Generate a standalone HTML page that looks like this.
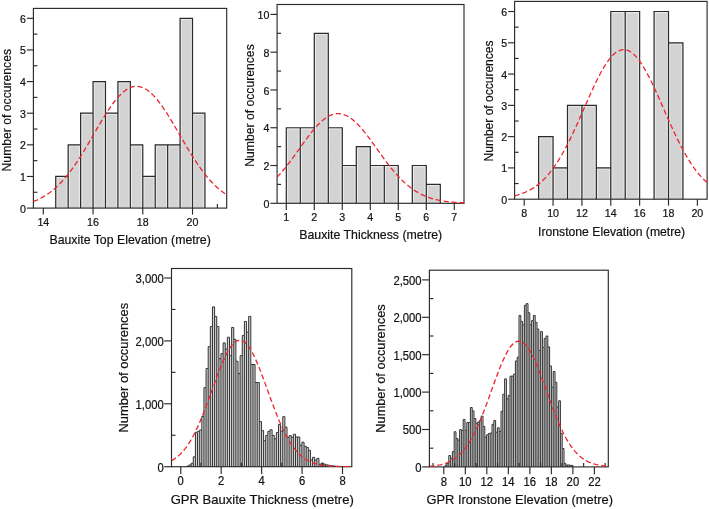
<!DOCTYPE html>
<html lang="en"><head><meta charset="utf-8"><title>Histograms</title>
<style>html,body{margin:0;padding:0;background:#fff;}svg{display:block;will-change:transform;}</style></head><body>
<svg width="709" height="509" viewBox="0 0 709 509">
<rect width="709" height="509" fill="#fff"/>
<g>
<path d="M55.73 208.10V176.47H68.17V144.84H80.60V113.21H93.04V81.58H105.47V113.21H117.91V81.58H130.34V144.84H142.78V176.47H155.22V144.84H167.65V144.84H180.08V18.32H192.52V113.21H204.95V208.10Z" fill="#d3d3d3" stroke="none"/>
<g fill="none" stroke="#e9e9e9" stroke-width="1.2">
<path d="M56.84 207.60 V177.57 H67.07 V207.60"/>
<path d="M69.27 207.60 V145.94 H79.50 V207.60"/>
<path d="M81.70 207.60 V114.31 H91.94 V207.60"/>
<path d="M94.14 207.60 V82.68 H104.38 V207.60"/>
<path d="M106.57 207.60 V114.31 H116.81 V207.60"/>
<path d="M119.01 207.60 V82.68 H129.25 V207.60"/>
<path d="M131.44 207.60 V145.94 H141.68 V207.60"/>
<path d="M143.88 207.60 V177.57 H154.12 V207.60"/>
<path d="M156.31 207.60 V145.94 H166.55 V207.60"/>
<path d="M168.75 207.60 V145.94 H178.98 V207.60"/>
<path d="M181.18 207.60 V19.42 H191.42 V207.60"/>
<path d="M193.62 207.60 V114.31 H203.85 V207.60"/>
</g>
<path d="M55.73 208.10V176.47H68.17V144.84H80.60V113.21H93.04V81.58H105.47V113.21H117.91V81.58H130.34V144.84H142.78V176.47H155.22V144.84H167.65V144.84H180.08V18.32H192.52V113.21H204.95V208.10M68.17 208.10V176.47M80.60 208.10V144.84M93.04 208.10V113.21M105.47 208.10V113.21M117.91 208.10V113.21M130.34 208.10V144.84M142.78 208.10V176.47M155.22 208.10V176.47M167.65 208.10V144.84M180.08 208.10V144.84M192.52 208.10V113.21" fill="none" stroke="#2a2a2a" stroke-width="1.2" stroke-linejoin="miter"/>
<g stroke="#2a2a2a" stroke-width="1.15" fill="none">
<path d="M26.90 208.10 H33.40"/>
<path d="M26.90 176.47 H33.40"/>
<path d="M26.90 144.84 H33.40"/>
<path d="M26.90 113.21 H33.40"/>
<path d="M26.90 81.58 H33.40"/>
<path d="M26.90 49.95 H33.40"/>
<path d="M26.90 18.32 H33.40"/>
<path d="M33.40 192.28 H37.40"/>
<path d="M33.40 160.66 H37.40"/>
<path d="M33.40 129.02 H37.40"/>
<path d="M33.40 97.39 H37.40"/>
<path d="M33.40 65.76 H37.40"/>
<path d="M33.40 34.13 H37.40"/>
<path d="M43.30 208.10 V214.60"/>
<path d="M93.04 208.10 V214.60"/>
<path d="M142.78 208.10 V214.60"/>
<path d="M192.52 208.10 V214.60"/>
<path d="M217.39 208.10 V204.10"/>
<rect x="33.40" y="8.40" width="193.30" height="199.70"/>
</g>
<clipPath id="c1"><rect x="33.40" y="8.40" width="193.30" height="200.70"/></clipPath>
<path clip-path="url(#c1)" d="M33.10 201.56 L34.72 200.95 L36.33 200.28 L37.94 199.56 L39.55 198.79 L41.17 197.97 L42.78 197.09 L44.39 196.15 L46.00 195.15 L47.61 194.08 L49.23 192.95 L50.84 191.75 L52.45 190.48 L54.06 189.14 L55.68 187.72 L57.29 186.23 L58.90 184.67 L60.51 183.02 L62.13 181.31 L63.74 179.51 L65.35 177.64 L66.96 175.69 L68.58 173.66 L70.19 171.56 L71.80 169.39 L73.41 167.14 L75.03 164.83 L76.64 162.45 L78.25 160.01 L79.86 157.51 L81.48 154.96 L83.09 152.35 L84.70 149.71 L86.31 147.02 L87.93 144.30 L89.54 141.55 L91.15 138.79 L92.76 136.01 L94.37 133.22 L95.99 130.44 L97.60 127.67 L99.21 124.92 L100.82 122.20 L102.44 119.52 L104.05 116.88 L105.66 114.29 L107.27 111.77 L108.89 109.32 L110.50 106.96 L112.11 104.68 L113.72 102.50 L115.34 100.43 L116.95 98.48 L118.56 96.64 L120.17 94.94 L121.79 93.38 L123.40 91.96 L125.01 90.69 L126.62 89.57 L128.24 88.61 L129.85 87.82 L131.46 87.19 L133.07 86.73 L134.68 86.44 L136.30 86.33 L137.91 86.38 L139.52 86.62 L141.13 87.02 L142.75 87.59 L144.36 88.33 L145.97 89.24 L147.58 90.30 L149.20 91.52 L150.81 92.89 L152.42 94.41 L154.03 96.07 L155.65 97.86 L157.26 99.77 L158.87 101.81 L160.48 103.95 L162.10 106.20 L163.71 108.53 L165.32 110.96 L166.93 113.45 L168.55 116.02 L170.16 118.64 L171.77 121.31 L173.38 124.02 L174.99 126.77 L176.61 129.53 L178.22 132.31 L179.83 135.09 L181.44 137.87 L183.06 140.64 L184.67 143.40 L186.28 146.13 L187.89 148.83 L189.51 151.49 L191.12 154.11 L192.73 156.68 L194.34 159.19 L195.96 161.66 L197.57 164.06 L199.18 166.39 L200.79 168.66 L202.41 170.85 L204.02 172.98 L205.63 175.03 L207.24 177.00 L208.86 178.90 L210.47 180.72 L212.08 182.47 L213.69 184.14 L215.31 185.73 L216.92 187.24 L218.53 188.68 L220.14 190.05 L221.75 191.34 L223.37 192.56 L224.98 193.72 L226.59 194.80" fill="none" stroke="#ee242c" stroke-width="1.3" stroke-dasharray="5.2 2.8"/>
<g font-family='"Liberation Sans", Arial, sans-serif' font-size="11.0" fill="#111" stroke="#111" stroke-width="0.2">
<text transform="translate(25.90 212.64) scale(0.97 1)" text-anchor="end">0</text>
<text transform="translate(25.90 181.01) scale(0.97 1)" text-anchor="end">1</text>
<text transform="translate(25.90 149.38) scale(0.97 1)" text-anchor="end">2</text>
<text transform="translate(25.90 117.75) scale(0.97 1)" text-anchor="end">3</text>
<text transform="translate(25.90 86.12) scale(0.97 1)" text-anchor="end">4</text>
<text transform="translate(25.90 54.49) scale(0.97 1)" text-anchor="end">5</text>
<text transform="translate(25.90 22.86) scale(0.97 1)" text-anchor="end">6</text>
<text transform="translate(43.30 226.30) scale(0.97 1)" text-anchor="middle">14</text>
<text transform="translate(93.04 226.30) scale(0.97 1)" text-anchor="middle">16</text>
<text transform="translate(142.78 226.30) scale(0.97 1)" text-anchor="middle">18</text>
<text transform="translate(192.52 226.30) scale(0.97 1)" text-anchor="middle">20</text>
</g>
<g font-family='"Liberation Sans", Arial, sans-serif' font-size="12.5" fill="#111" stroke="#111" stroke-width="0.2">
<text transform="translate(130.10 244.00) scale(0.986 1)" text-anchor="middle">Bauxite Top Elevation (metre)</text>
<text transform="translate(11.00 110.20) rotate(-90) scale(0.975 1)" text-anchor="middle">Number of occurences</text>
</g>
</g>
<g>
<path d="M286.30 203.30V127.74H300.30V127.74H314.30V33.29H328.30V127.74H342.30V165.52H356.30V146.63H370.30V165.52H384.30V165.52H398.30V203.30ZM412.30 203.30V165.52H426.30V184.41H440.30V203.30Z" fill="#d3d3d3" stroke="none"/>
<g fill="none" stroke="#e9e9e9" stroke-width="1.2">
<path d="M287.40 202.80 V128.84 H299.20 V202.80"/>
<path d="M301.40 202.80 V128.84 H313.20 V202.80"/>
<path d="M315.40 202.80 V34.39 H327.20 V202.80"/>
<path d="M329.40 202.80 V128.84 H341.20 V202.80"/>
<path d="M343.40 202.80 V166.62 H355.20 V202.80"/>
<path d="M357.40 202.80 V147.73 H369.20 V202.80"/>
<path d="M371.40 202.80 V166.62 H383.20 V202.80"/>
<path d="M385.40 202.80 V166.62 H397.20 V202.80"/>
<path d="M413.40 202.80 V166.62 H425.20 V202.80"/>
<path d="M427.40 202.80 V185.51 H439.20 V202.80"/>
</g>
<path d="M286.30 203.30V127.74H300.30V127.74H314.30V33.29H328.30V127.74H342.30V165.52H356.30V146.63H370.30V165.52H384.30V165.52H398.30V203.30M300.30 203.30V127.74M314.30 203.30V127.74M328.30 203.30V127.74M342.30 203.30V165.52M356.30 203.30V165.52M370.30 203.30V165.52M384.30 203.30V165.52M412.30 203.30V165.52H426.30V184.41H440.30V203.30M426.30 203.30V184.41" fill="none" stroke="#2a2a2a" stroke-width="1.2" stroke-linejoin="miter"/>
<g stroke="#2a2a2a" stroke-width="1.15" fill="none">
<path d="M270.40 203.30 H277.10"/>
<path d="M270.40 165.52 H277.10"/>
<path d="M270.40 127.74 H277.10"/>
<path d="M270.40 89.96 H277.10"/>
<path d="M270.40 52.18 H277.10"/>
<path d="M270.40 14.40 H277.10"/>
<path d="M277.10 184.41 H281.10"/>
<path d="M277.10 146.63 H281.10"/>
<path d="M277.10 108.85 H281.10"/>
<path d="M277.10 71.07 H281.10"/>
<path d="M277.10 33.29 H281.10"/>
<path d="M286.30 203.30 V210.00"/>
<path d="M314.30 203.30 V210.00"/>
<path d="M342.30 203.30 V210.00"/>
<path d="M370.30 203.30 V210.00"/>
<path d="M398.30 203.30 V210.00"/>
<path d="M426.30 203.30 V210.00"/>
<path d="M454.30 203.30 V210.00"/>
<rect x="277.10" y="4.50" width="186.90" height="198.80"/>
</g>
<clipPath id="c2"><rect x="277.10" y="4.50" width="186.90" height="199.80"/></clipPath>
<path clip-path="url(#c2)" d="M277.00 177.31 L278.56 175.64 L280.12 173.91 L281.68 172.11 L283.24 170.26 L284.80 168.36 L286.36 166.41 L287.92 164.41 L289.48 162.37 L291.04 160.29 L292.60 158.18 L294.15 156.04 L295.71 153.88 L297.27 151.71 L298.83 149.52 L300.39 147.34 L301.95 145.16 L303.51 142.99 L305.07 140.84 L306.63 138.72 L308.19 136.63 L309.75 134.59 L311.30 132.60 L312.86 130.67 L314.42 128.81 L315.98 127.02 L317.54 125.32 L319.10 123.71 L320.66 122.19 L322.22 120.78 L323.78 119.48 L325.34 118.30 L326.90 117.23 L328.46 116.30 L330.01 115.50 L331.57 114.83 L333.13 114.30 L334.69 113.92 L336.25 113.67 L337.81 113.58 L339.37 113.62 L340.93 113.81 L342.49 114.14 L344.05 114.62 L345.61 115.24 L347.17 115.99 L348.72 116.87 L350.28 117.89 L351.84 119.03 L353.40 120.28 L354.96 121.65 L356.52 123.13 L358.08 124.71 L359.64 126.38 L361.20 128.14 L362.76 129.97 L364.32 131.88 L365.87 133.85 L367.43 135.87 L368.99 137.94 L370.55 140.05 L372.11 142.19 L373.67 144.35 L375.23 146.53 L376.79 148.71 L378.35 150.90 L379.91 153.07 L381.47 155.24 L383.03 157.39 L384.58 159.51 L386.14 161.60 L387.70 163.66 L389.26 165.67 L390.82 167.64 L392.38 169.56 L393.94 171.43 L395.50 173.25 L397.06 175.00 L398.62 176.70 L400.18 178.33 L401.73 179.91 L403.29 181.42 L404.85 182.86 L406.41 184.24 L407.97 185.56 L409.53 186.81 L411.09 188.00 L412.65 189.12 L414.21 190.19 L415.77 191.19 L417.33 192.13 L418.89 193.02 L420.44 193.85 L422.00 194.63 L423.56 195.36 L425.12 196.04 L426.68 196.67 L428.24 197.25 L429.80 197.80 L431.36 198.30 L432.92 198.76 L434.48 199.19 L436.04 199.58 L437.59 199.95 L439.15 200.28 L440.71 200.58 L442.27 200.85 L443.83 201.11 L445.39 201.34 L446.95 201.54 L448.51 201.73 L450.07 201.90 L451.63 202.06 L453.19 202.20 L454.75 202.32 L456.30 202.43 L457.86 202.53 L459.42 202.62 L460.98 202.70 L462.54 202.77 L464.10 202.84" fill="none" stroke="#ee242c" stroke-width="1.3" stroke-dasharray="5.2 2.8"/>
<g font-family='"Liberation Sans", Arial, sans-serif' font-size="11.0" fill="#111" stroke="#111" stroke-width="0.2">
<text transform="translate(269.40 207.84) scale(0.97 1)" text-anchor="end">0</text>
<text transform="translate(269.40 170.06) scale(0.97 1)" text-anchor="end">2</text>
<text transform="translate(269.40 132.28) scale(0.97 1)" text-anchor="end">4</text>
<text transform="translate(269.40 94.50) scale(0.97 1)" text-anchor="end">6</text>
<text transform="translate(269.40 56.72) scale(0.97 1)" text-anchor="end">8</text>
<text transform="translate(269.40 18.94) scale(0.97 1)" text-anchor="end">10</text>
<text transform="translate(286.30 221.00) scale(0.97 1)" text-anchor="middle">1</text>
<text transform="translate(314.30 221.00) scale(0.97 1)" text-anchor="middle">2</text>
<text transform="translate(342.30 221.00) scale(0.97 1)" text-anchor="middle">3</text>
<text transform="translate(370.30 221.00) scale(0.97 1)" text-anchor="middle">4</text>
<text transform="translate(398.30 221.00) scale(0.97 1)" text-anchor="middle">5</text>
<text transform="translate(426.30 221.00) scale(0.97 1)" text-anchor="middle">6</text>
<text transform="translate(454.30 221.00) scale(0.97 1)" text-anchor="middle">7</text>
</g>
<g font-family='"Liberation Sans", Arial, sans-serif' font-size="12.5" fill="#111" stroke="#111" stroke-width="0.2">
<text transform="translate(370.70 239.30) scale(0.988 1)" text-anchor="middle">Bauxite Thickness (metre)</text>
<text transform="translate(253.60 105.50) rotate(-90) scale(0.975 1)" text-anchor="middle">Number of occurences</text>
</g>
</g>
<g>
<path d="M538.63 199.20V136.64H553.06V167.92H567.49V105.36H581.92V105.36H596.35V167.92H610.78V11.52H625.21V11.52H639.64V199.20ZM654.07 199.20V11.52H668.50V42.80H682.93V199.20Z" fill="#d3d3d3" stroke="none"/>
<g fill="none" stroke="#e9e9e9" stroke-width="1.2">
<path d="M539.73 198.70 V137.74 H551.96 V198.70"/>
<path d="M554.16 198.70 V169.02 H566.39 V198.70"/>
<path d="M568.59 198.70 V106.46 H580.82 V198.70"/>
<path d="M583.02 198.70 V106.46 H595.25 V198.70"/>
<path d="M597.45 198.70 V169.02 H609.68 V198.70"/>
<path d="M611.88 198.70 V12.62 H624.11 V198.70"/>
<path d="M626.31 198.70 V12.62 H638.54 V198.70"/>
<path d="M655.17 198.70 V12.62 H667.40 V198.70"/>
<path d="M669.60 198.70 V43.90 H681.83 V198.70"/>
</g>
<path d="M538.63 199.20V136.64H553.06V167.92H567.49V105.36H581.92V105.36H596.35V167.92H610.78V11.52H625.21V11.52H639.64V199.20M553.06 199.20V167.92M567.49 199.20V167.92M581.92 199.20V105.36M596.35 199.20V167.92M610.78 199.20V167.92M625.21 199.20V11.52M654.07 199.20V11.52H668.50V42.80H682.93V199.20M668.50 199.20V42.80" fill="none" stroke="#2a2a2a" stroke-width="1.2" stroke-linejoin="miter"/>
<g stroke="#2a2a2a" stroke-width="1.15" fill="none">
<path d="M508.10 199.20 H514.60"/>
<path d="M508.10 167.92 H514.60"/>
<path d="M508.10 136.64 H514.60"/>
<path d="M508.10 105.36 H514.60"/>
<path d="M508.10 74.08 H514.60"/>
<path d="M508.10 42.80 H514.60"/>
<path d="M508.10 11.52 H514.60"/>
<path d="M514.60 183.56 H518.60"/>
<path d="M514.60 152.28 H518.60"/>
<path d="M514.60 121.00 H518.60"/>
<path d="M514.60 89.72 H518.60"/>
<path d="M514.60 58.44 H518.60"/>
<path d="M514.60 27.16 H518.60"/>
<path d="M524.20 199.20 V205.70"/>
<path d="M553.06 199.20 V205.70"/>
<path d="M581.92 199.20 V205.70"/>
<path d="M610.78 199.20 V205.70"/>
<path d="M639.64 199.20 V205.70"/>
<path d="M668.50 199.20 V205.70"/>
<path d="M697.36 199.20 V205.70"/>
<rect x="514.60" y="1.40" width="192.50" height="197.80"/>
</g>
<clipPath id="c3"><rect x="514.60" y="1.40" width="192.50" height="198.80"/></clipPath>
<path clip-path="url(#c3)" d="M514.60 195.76 L516.21 195.36 L517.81 194.92 L519.41 194.44 L521.02 193.91 L522.62 193.34 L524.23 192.71 L525.83 192.02 L527.43 191.28 L529.04 190.47 L530.64 189.60 L532.24 188.66 L533.85 187.64 L535.45 186.55 L537.05 185.37 L538.66 184.11 L540.26 182.76 L541.86 181.32 L543.47 179.79 L545.07 178.15 L546.67 176.42 L548.28 174.59 L549.88 172.65 L551.49 170.60 L553.09 168.45 L554.69 166.19 L556.30 163.82 L557.90 161.34 L559.50 158.76 L561.11 156.06 L562.71 153.27 L564.31 150.37 L565.92 147.37 L567.52 144.28 L569.12 141.10 L570.73 137.84 L572.33 134.50 L573.93 131.08 L575.54 127.61 L577.14 124.07 L578.75 120.50 L580.35 116.88 L581.95 113.24 L583.56 109.59 L585.16 105.93 L586.76 102.28 L588.37 98.65 L589.97 95.05 L591.57 91.51 L593.18 88.02 L594.78 84.60 L596.38 81.28 L597.99 78.05 L599.59 74.94 L601.19 71.96 L602.80 69.11 L604.40 66.42 L606.01 63.89 L607.61 61.54 L609.21 59.38 L610.82 57.41 L612.42 55.65 L614.02 54.11 L615.63 52.79 L617.23 51.69 L618.83 50.83 L620.44 50.21 L622.04 49.82 L623.64 49.68 L625.25 49.79 L626.85 50.13 L628.45 50.72 L630.06 51.54 L631.66 52.60 L633.27 53.89 L634.87 55.40 L636.47 57.13 L638.08 59.07 L639.68 61.20 L641.28 63.52 L642.89 66.02 L644.49 68.69 L646.09 71.51 L647.70 74.47 L649.30 77.57 L650.90 80.78 L652.51 84.09 L654.11 87.49 L655.72 90.97 L657.32 94.51 L658.92 98.10 L660.53 101.72 L662.13 105.37 L663.73 109.03 L665.34 112.68 L666.94 116.33 L668.54 119.95 L670.15 123.53 L671.75 127.07 L673.35 130.56 L674.96 133.98 L676.56 137.33 L678.16 140.61 L679.77 143.80 L681.37 146.91 L682.98 149.92 L684.58 152.83 L686.18 155.64 L687.79 158.35 L689.39 160.95 L690.99 163.45 L692.60 165.83 L694.20 168.11 L695.80 170.28 L697.41 172.34 L699.01 174.30 L700.61 176.15 L702.22 177.90 L703.82 179.54 L705.42 181.09 L707.03 182.55" fill="none" stroke="#ee242c" stroke-width="1.3" stroke-dasharray="5.2 2.8"/>
<g font-family='"Liberation Sans", Arial, sans-serif' font-size="11.0" fill="#111" stroke="#111" stroke-width="0.2">
<text transform="translate(507.10 203.74) scale(0.97 1)" text-anchor="end">0</text>
<text transform="translate(507.10 172.46) scale(0.97 1)" text-anchor="end">1</text>
<text transform="translate(507.10 141.18) scale(0.97 1)" text-anchor="end">2</text>
<text transform="translate(507.10 109.90) scale(0.97 1)" text-anchor="end">3</text>
<text transform="translate(507.10 78.62) scale(0.97 1)" text-anchor="end">4</text>
<text transform="translate(507.10 47.34) scale(0.97 1)" text-anchor="end">5</text>
<text transform="translate(507.10 16.06) scale(0.97 1)" text-anchor="end">6</text>
<text transform="translate(524.20 216.70) scale(0.97 1)" text-anchor="middle">8</text>
<text transform="translate(553.06 216.70) scale(0.97 1)" text-anchor="middle">10</text>
<text transform="translate(581.92 216.70) scale(0.97 1)" text-anchor="middle">12</text>
<text transform="translate(610.78 216.70) scale(0.97 1)" text-anchor="middle">14</text>
<text transform="translate(639.64 216.70) scale(0.97 1)" text-anchor="middle">16</text>
<text transform="translate(668.50 216.70) scale(0.97 1)" text-anchor="middle">18</text>
<text transform="translate(697.36 216.70) scale(0.97 1)" text-anchor="middle">20</text>
</g>
<g font-family='"Liberation Sans", Arial, sans-serif' font-size="12.4" fill="#111" stroke="#111" stroke-width="0.2">
<text transform="translate(611.60 235.60) scale(0.984 1)" text-anchor="middle">Ironstone Elevation (metre)</text>
<text transform="translate(493.40 101.00) rotate(-90) scale(0.97 1)" text-anchor="middle">Number of occurences</text>
</g>
</g>
<g>
<path d="M186.90 466.70V466.07H189.03V464.94H191.16V463.24H193.29V456.82H195.42V432.29H197.55V431.35H199.68V430.03H201.81V416.51H203.94V387.63H206.07V368.45H208.20V346.62H210.33V326.56H212.46V306.87H214.59V316.43H216.72V326.56H218.85V358.70H220.98V353.61H223.11V342.91H225.24V349.08H227.37V337.25H229.50V355.62H231.63V327.44H233.76V339.26H235.89V361.28H238.02V373.55H240.15V355.62H242.28V335.55H244.41V321.53H246.54V332.22H248.67V316.43H250.80V364.49H252.93V364.49H255.06V382.54H257.19V382.54H259.32V421.60H261.45V430.60H263.58V440.72H265.71V435.44H267.84V431.35H269.97V429.78H272.10V435.44H274.23V438.84H276.36V432.55H278.49V424.56H280.62V431.16H282.75V416.69H284.88V427.14H287.01V437.33H289.14V435.63H291.27V437.33H293.40V434.24H295.53V437.01H297.66V437.01H299.79V445.25H301.92V442.17H304.05V446.32H306.18V447.45H308.31V450.35H310.44V459.91H312.57V457.33H314.70V460.22H316.83V458.40H318.96V464.37H321.09V463.18H323.22V464.00H325.35V464.81H327.48V465.19H329.61V465.57H331.74V465.95H333.87V466.20H336.00V466.39H338.13V466.70Z" fill="#d3d3d3" stroke="none"/>
<path d="M186.90 466.70V466.07H189.03V464.94H191.16V463.24H193.29V456.82H195.42V432.29H197.55V431.35H199.68V430.03H201.81V416.51H203.94V387.63H206.07V368.45H208.20V346.62H210.33V326.56H212.46V306.87H214.59V316.43H216.72V326.56H218.85V358.70H220.98V353.61H223.11V342.91H225.24V349.08H227.37V337.25H229.50V355.62H231.63V327.44H233.76V339.26H235.89V361.28H238.02V373.55H240.15V355.62H242.28V335.55H244.41V321.53H246.54V332.22H248.67V316.43H250.80V364.49H252.93V364.49H255.06V382.54H257.19V382.54H259.32V421.60H261.45V430.60H263.58V440.72H265.71V435.44H267.84V431.35H269.97V429.78H272.10V435.44H274.23V438.84H276.36V432.55H278.49V424.56H280.62V431.16H282.75V416.69H284.88V427.14H287.01V437.33H289.14V435.63H291.27V437.33H293.40V434.24H295.53V437.01H297.66V437.01H299.79V445.25H301.92V442.17H304.05V446.32H306.18V447.45H308.31V450.35H310.44V459.91H312.57V457.33H314.70V460.22H316.83V458.40H318.96V464.37H321.09V463.18H323.22V464.00H325.35V464.81H327.48V465.19H329.61V465.57H331.74V465.95H333.87V466.20H336.00V466.39H338.13V466.70M189.03 466.70V466.07M191.16 466.70V464.94M193.29 466.70V463.24M195.42 466.70V456.82M197.55 466.70V432.29M199.68 466.70V431.35M201.81 466.70V430.03M203.94 466.70V416.51M206.07 466.70V387.63M208.20 466.70V368.45M210.33 466.70V346.62M212.46 466.70V326.56M214.59 466.70V316.43M216.72 466.70V326.56M218.85 466.70V358.70M220.98 466.70V358.70M223.11 466.70V353.61M225.24 466.70V349.08M227.37 466.70V349.08M229.50 466.70V355.62M231.63 466.70V355.62M233.76 466.70V339.26M235.89 466.70V361.28M238.02 466.70V373.55M240.15 466.70V373.55M242.28 466.70V355.62M244.41 466.70V335.55M246.54 466.70V332.22M248.67 466.70V332.22M250.80 466.70V364.49M252.93 466.70V364.49M255.06 466.70V382.54M257.19 466.70V382.54M259.32 466.70V421.60M261.45 466.70V430.60M263.58 466.70V440.72M265.71 466.70V440.72M267.84 466.70V435.44M269.97 466.70V431.35M272.10 466.70V435.44M274.23 466.70V438.84M276.36 466.70V438.84M278.49 466.70V432.55M280.62 466.70V431.16M282.75 466.70V431.16M284.88 466.70V427.14M287.01 466.70V437.33M289.14 466.70V437.33M291.27 466.70V437.33M293.40 466.70V437.33M295.53 466.70V437.01M297.66 466.70V437.01M299.79 466.70V445.25M301.92 466.70V445.25M304.05 466.70V446.32M306.18 466.70V447.45M308.31 466.70V450.35M310.44 466.70V459.91M312.57 466.70V459.91M314.70 466.70V460.22M316.83 466.70V460.22M318.96 466.70V464.37M321.09 466.70V464.37M323.22 466.70V464.00M325.35 466.70V464.81M327.48 466.70V465.19M329.61 466.70V465.57M331.74 466.70V465.95M333.87 466.70V466.20M336.00 466.70V466.39" fill="none" stroke="#333" stroke-width="1.0" stroke-linejoin="miter"/>
<g stroke="#2a2a2a" stroke-width="1.15" fill="none">
<path d="M164.20 466.70 H171.50"/>
<path d="M164.20 403.80 H171.50"/>
<path d="M164.20 340.90 H171.50"/>
<path d="M164.20 278.00 H171.50"/>
<path d="M171.50 435.25 H175.50"/>
<path d="M171.50 372.35 H175.50"/>
<path d="M171.50 309.45 H175.50"/>
<path d="M180.75 466.70 V474.00"/>
<path d="M221.19 466.70 V474.00"/>
<path d="M261.63 466.70 V474.00"/>
<path d="M302.07 466.70 V474.00"/>
<path d="M342.51 466.70 V474.00"/>
<path d="M200.97 466.70 V462.70"/>
<path d="M241.41 466.70 V462.70"/>
<path d="M281.85 466.70 V462.70"/>
<path d="M322.29 466.70 V462.70"/>
<rect x="171.50" y="268.50" width="180.30" height="198.20"/>
</g>
<clipPath id="c4"><rect x="171.50" y="268.50" width="180.30" height="199.20"/></clipPath>
<path clip-path="url(#c4)" d="M171.45 460.67 L172.95 459.82 L174.45 458.87 L175.96 457.81 L177.46 456.64 L178.96 455.36 L180.47 453.94 L181.97 452.39 L183.47 450.69 L184.98 448.85 L186.48 446.86 L187.98 444.71 L189.49 442.40 L190.99 439.92 L192.49 437.28 L193.99 434.47 L195.50 431.49 L197.00 428.36 L198.50 425.07 L200.01 421.63 L201.51 418.05 L203.01 414.34 L204.52 410.51 L206.02 406.57 L207.52 402.56 L209.02 398.47 L210.53 394.34 L212.03 390.18 L213.53 386.03 L215.04 381.90 L216.54 377.81 L218.04 373.81 L219.55 369.91 L221.05 366.14 L222.55 362.53 L224.05 359.11 L225.56 355.91 L227.06 352.94 L228.56 350.24 L230.07 347.83 L231.57 345.72 L233.07 343.94 L234.58 342.49 L236.08 341.40 L237.58 340.67 L239.08 340.31 L240.59 340.32 L242.09 340.71 L243.59 341.46 L245.10 342.57 L246.60 344.03 L248.10 345.83 L249.61 347.96 L251.11 350.39 L252.61 353.11 L254.11 356.09 L255.62 359.31 L257.12 362.74 L258.62 366.36 L260.13 370.13 L261.63 374.04 L263.13 378.05 L264.64 382.13 L266.14 386.27 L267.64 390.43 L269.15 394.58 L270.65 398.71 L272.15 402.79 L273.65 406.81 L275.16 410.73 L276.66 414.55 L278.16 418.26 L279.67 421.83 L281.17 425.26 L282.67 428.55 L284.18 431.67 L285.68 434.63 L287.18 437.43 L288.68 440.07 L290.19 442.54 L291.69 444.84 L293.19 446.98 L294.70 448.97 L296.20 450.80 L297.70 452.48 L299.21 454.02 L300.71 455.43 L302.21 456.72 L303.71 457.88 L305.22 458.93 L306.72 459.87 L308.22 460.72 L309.73 461.48 L311.23 462.15 L312.73 462.75 L314.24 463.28 L315.74 463.75 L317.24 464.16 L318.74 464.52 L320.25 464.84 L321.75 465.11 L323.25 465.35 L324.76 465.55 L326.26 465.73 L327.76 465.88 L329.27 466.01 L330.77 466.12 L332.27 466.22 L333.77 466.30 L335.28 466.37 L336.78 466.42 L338.28 466.47 L339.79 466.51 L341.29 466.55 L342.79 466.57 L344.30 466.60 L345.80 466.62 L347.30 466.63 L348.81 466.65 L350.31 466.66 L351.81 466.66" fill="none" stroke="#ee242c" stroke-width="1.3" stroke-dasharray="5.2 2.8"/>
<g font-family='"Liberation Sans", Arial, sans-serif' font-size="12.0" fill="#111" stroke="#111" stroke-width="0.2">
<text transform="translate(163.70 471.60) scale(0.94 1)" text-anchor="end">0</text>
<text transform="translate(163.70 408.70) scale(0.94 1)" text-anchor="end">1,000</text>
<text transform="translate(163.70 345.80) scale(0.94 1)" text-anchor="end">2,000</text>
<text transform="translate(163.70 282.90) scale(0.94 1)" text-anchor="end">3,000</text>
<text transform="translate(180.75 485.20) scale(0.94 1)" text-anchor="middle">0</text>
<text transform="translate(221.19 485.20) scale(0.94 1)" text-anchor="middle">2</text>
<text transform="translate(261.63 485.20) scale(0.94 1)" text-anchor="middle">4</text>
<text transform="translate(302.07 485.20) scale(0.94 1)" text-anchor="middle">6</text>
<text transform="translate(342.51 485.20) scale(0.94 1)" text-anchor="middle">8</text>
</g>
<g font-family='"Liberation Sans", Arial, sans-serif' font-size="13.1" fill="#111" stroke="#111" stroke-width="0.2">
<text transform="translate(262.20 503.90) scale(0.996 1)" text-anchor="middle">GPR Bauxite Thickness (metre)</text>
<text transform="translate(127.60 367.70) rotate(-90) scale(0.985 1)" text-anchor="middle">Number of occurences</text>
</g>
</g>
<g>
<path d="M445.20 466.90V465.10H447.00V463.38H448.80V455.53H450.60V458.37H452.40V451.57H454.20V431.74H456.00V438.55H457.80V440.20H459.60V429.65H461.40V430.47H463.20V419.48H465.00V430.32H466.80V422.47H468.60V422.47H470.40V407.51H472.20V410.87H474.00V418.50H475.80V423.29H477.60V422.02H479.40V420.52H481.20V416.11H483.00V426.43H484.80V437.28H486.60V434.74H488.40V433.46H490.20V433.02H492.00V424.41H493.80V420.52H495.60V432.27H497.40V427.78H499.20V431.52H501.00V411.32H502.80V394.27H504.60V378.86H506.40V398.98H508.20V395.39H510.00V376.17H511.80V376.17H513.60V374.22H515.40V360.98H517.20V357.17H519.00V315.50H520.80V321.41H522.60V324.78H524.40V305.33H526.20V303.61H528.00V312.81H529.80V324.78H531.60V320.59H533.40V315.50H535.20V322.31H537.00V329.04H538.80V350.36H540.60V331.59H542.40V347.44H544.20V338.39H546.00V336.00H547.80V346.85H549.60V365.92H551.40V387.31H553.20V371.53H555.00V382.30H556.80V407.06H558.60V400.78H560.40V433.31H562.20V448.50H564.00V463.31H565.80V465.03H567.60V465.03H569.40V465.25H571.20V465.55H573.00V466.90Z" fill="#d3d3d3" stroke="none"/>
<path d="M445.20 466.90V465.10H447.00V463.38H448.80V455.53H450.60V458.37H452.40V451.57H454.20V431.74H456.00V438.55H457.80V440.20H459.60V429.65H461.40V430.47H463.20V419.48H465.00V430.32H466.80V422.47H468.60V422.47H470.40V407.51H472.20V410.87H474.00V418.50H475.80V423.29H477.60V422.02H479.40V420.52H481.20V416.11H483.00V426.43H484.80V437.28H486.60V434.74H488.40V433.46H490.20V433.02H492.00V424.41H493.80V420.52H495.60V432.27H497.40V427.78H499.20V431.52H501.00V411.32H502.80V394.27H504.60V378.86H506.40V398.98H508.20V395.39H510.00V376.17H511.80V376.17H513.60V374.22H515.40V360.98H517.20V357.17H519.00V315.50H520.80V321.41H522.60V324.78H524.40V305.33H526.20V303.61H528.00V312.81H529.80V324.78H531.60V320.59H533.40V315.50H535.20V322.31H537.00V329.04H538.80V350.36H540.60V331.59H542.40V347.44H544.20V338.39H546.00V336.00H547.80V346.85H549.60V365.92H551.40V387.31H553.20V371.53H555.00V382.30H556.80V407.06H558.60V400.78H560.40V433.31H562.20V448.50H564.00V463.31H565.80V465.03H567.60V465.03H569.40V465.25H571.20V465.55H573.00V466.90M447.00 466.90V465.10M448.80 466.90V463.38M450.60 466.90V458.37M452.40 466.90V458.37M454.20 466.90V451.57M456.00 466.90V438.55M457.80 466.90V440.20M459.60 466.90V440.20M461.40 466.90V430.47M463.20 466.90V430.47M465.00 466.90V430.32M466.80 466.90V430.32M468.60 466.90V422.47M470.40 466.90V422.47M472.20 466.90V410.87M474.00 466.90V418.50M475.80 466.90V423.29M477.60 466.90V423.29M479.40 466.90V422.02M481.20 466.90V420.52M483.00 466.90V426.43M484.80 466.90V437.28M486.60 466.90V437.28M488.40 466.90V434.74M490.20 466.90V433.46M492.00 466.90V433.02M493.80 466.90V424.41M495.60 466.90V432.27M497.40 466.90V432.27M499.20 466.90V431.52M501.00 466.90V431.52M502.80 466.90V411.32M504.60 466.90V394.27M506.40 466.90V398.98M508.20 466.90V398.98M510.00 466.90V395.39M511.80 466.90V376.17M513.60 466.90V376.17M515.40 466.90V374.22M517.20 466.90V360.98M519.00 466.90V357.17M520.80 466.90V321.41M522.60 466.90V324.78M524.40 466.90V324.78M526.20 466.90V305.33M528.00 466.90V312.81M529.80 466.90V324.78M531.60 466.90V324.78M533.40 466.90V320.59M535.20 466.90V322.31M537.00 466.90V329.04M538.80 466.90V350.36M540.60 466.90V350.36M542.40 466.90V347.44M544.20 466.90V347.44M546.00 466.90V338.39M547.80 466.90V346.85M549.60 466.90V365.92M551.40 466.90V387.31M553.20 466.90V387.31M555.00 466.90V382.30M556.80 466.90V407.06M558.60 466.90V407.06M560.40 466.90V433.31M562.20 466.90V448.50M564.00 466.90V463.31M565.80 466.90V465.03M567.60 466.90V465.03M569.40 466.90V465.25M571.20 466.90V465.55" fill="none" stroke="#333" stroke-width="1.0" stroke-linejoin="miter"/>
<g stroke="#2a2a2a" stroke-width="1.15" fill="none">
<path d="M422.10 466.90 H429.40"/>
<path d="M422.10 429.50 H429.40"/>
<path d="M422.10 392.10 H429.40"/>
<path d="M422.10 354.70 H429.40"/>
<path d="M422.10 317.30 H429.40"/>
<path d="M422.10 279.90 H429.40"/>
<path d="M429.40 448.20 H433.40"/>
<path d="M429.40 410.80 H433.40"/>
<path d="M429.40 373.40 H433.40"/>
<path d="M429.40 336.00 H433.40"/>
<path d="M429.40 298.60 H433.40"/>
<path d="M443.80 466.90 V474.20"/>
<path d="M465.31 466.90 V474.20"/>
<path d="M486.83 466.90 V474.20"/>
<path d="M508.34 466.90 V474.20"/>
<path d="M529.86 466.90 V474.20"/>
<path d="M551.37 466.90 V474.20"/>
<path d="M572.88 466.90 V474.20"/>
<path d="M594.40 466.90 V474.20"/>
<path d="M433.04 466.90 V462.90"/>
<path d="M454.56 466.90 V462.90"/>
<path d="M476.07 466.90 V462.90"/>
<path d="M497.59 466.90 V462.90"/>
<path d="M519.10 466.90 V462.90"/>
<path d="M540.61 466.90 V462.90"/>
<path d="M562.13 466.90 V462.90"/>
<path d="M583.64 466.90 V462.90"/>
<path d="M605.15 466.90 V462.90"/>
<rect x="429.40" y="270.20" width="178.90" height="196.70"/>
</g>
<clipPath id="c5"><rect x="429.40" y="270.20" width="178.90" height="197.70"/></clipPath>
<path clip-path="url(#c5)" d="M429.39 466.29 L430.88 466.17 L432.37 466.03 L433.86 465.87 L435.35 465.68 L436.84 465.46 L438.33 465.21 L439.82 464.92 L441.31 464.59 L442.80 464.21 L444.29 463.78 L445.78 463.29 L447.27 462.73 L448.77 462.10 L450.26 461.40 L451.75 460.61 L453.24 459.72 L454.73 458.74 L456.22 457.64 L457.71 456.44 L459.20 455.10 L460.69 453.64 L462.18 452.05 L463.67 450.30 L465.16 448.41 L466.65 446.37 L468.14 444.16 L469.64 441.79 L471.13 439.26 L472.62 436.56 L474.11 433.70 L475.60 430.68 L477.09 427.49 L478.58 424.15 L480.07 420.67 L481.56 417.04 L483.05 413.30 L484.54 409.44 L486.03 405.48 L487.52 401.45 L489.02 397.36 L490.51 393.23 L492.00 389.08 L493.49 384.94 L494.98 380.84 L496.47 376.80 L497.96 372.85 L499.45 369.01 L500.94 365.32 L502.43 361.80 L503.92 358.48 L505.41 355.38 L506.90 352.53 L508.39 349.96 L509.89 347.68 L511.38 345.71 L512.87 344.08 L514.36 342.79 L515.85 341.85 L517.34 341.29 L518.83 341.09 L520.32 341.26 L521.81 341.80 L523.30 342.71 L524.79 343.97 L526.28 345.58 L527.77 347.52 L529.27 349.78 L530.76 352.34 L532.25 355.16 L533.74 358.24 L535.23 361.55 L536.72 365.06 L538.21 368.74 L539.70 372.57 L541.19 376.51 L542.68 380.55 L544.17 384.64 L545.66 388.78 L547.15 392.93 L548.64 397.06 L550.14 401.16 L551.63 405.19 L553.12 409.15 L554.61 413.02 L556.10 416.78 L557.59 420.41 L559.08 423.90 L560.57 427.25 L562.06 430.45 L563.55 433.49 L565.04 436.36 L566.53 439.07 L568.02 441.62 L569.52 444.00 L571.01 446.21 L572.50 448.27 L573.99 450.17 L575.48 451.92 L576.97 453.53 L578.46 455.00 L579.95 456.34 L581.44 457.56 L582.93 458.66 L584.42 459.65 L585.91 460.55 L587.40 461.34 L588.89 462.06 L590.39 462.69 L591.88 463.25 L593.37 463.75 L594.86 464.18 L596.35 464.57 L597.84 464.90 L599.33 465.19 L600.82 465.45 L602.31 465.67 L603.80 465.86 L605.29 466.02 L606.78 466.16 L608.27 466.28" fill="none" stroke="#ee242c" stroke-width="1.3" stroke-dasharray="5.2 2.8"/>
<g font-family='"Liberation Sans", Arial, sans-serif' font-size="12.0" fill="#111" stroke="#111" stroke-width="0.2">
<text transform="translate(421.60 471.80) scale(0.94 1)" text-anchor="end">0</text>
<text transform="translate(421.60 434.40) scale(0.94 1)" text-anchor="end">500</text>
<text transform="translate(421.60 397.00) scale(0.94 1)" text-anchor="end">1,000</text>
<text transform="translate(421.60 359.60) scale(0.94 1)" text-anchor="end">1,500</text>
<text transform="translate(421.60 322.20) scale(0.94 1)" text-anchor="end">2,000</text>
<text transform="translate(421.60 284.80) scale(0.94 1)" text-anchor="end">2,500</text>
<text transform="translate(443.80 485.50) scale(0.94 1)" text-anchor="middle">8</text>
<text transform="translate(465.31 485.50) scale(0.94 1)" text-anchor="middle">10</text>
<text transform="translate(486.83 485.50) scale(0.94 1)" text-anchor="middle">12</text>
<text transform="translate(508.34 485.50) scale(0.94 1)" text-anchor="middle">14</text>
<text transform="translate(529.86 485.50) scale(0.94 1)" text-anchor="middle">16</text>
<text transform="translate(551.37 485.50) scale(0.94 1)" text-anchor="middle">18</text>
<text transform="translate(572.88 485.50) scale(0.94 1)" text-anchor="middle">20</text>
<text transform="translate(594.40 485.50) scale(0.94 1)" text-anchor="middle">22</text>
</g>
<g font-family='"Liberation Sans", Arial, sans-serif' font-size="13.1" fill="#111" stroke="#111" stroke-width="0.2">
<text transform="translate(519.70 503.90) scale(0.983 1)" text-anchor="middle">GPR Ironstone Elevation (metre)</text>
<text transform="translate(385.00 368.50) rotate(-90) scale(0.975 1)" text-anchor="middle">Number of occurences</text>
</g>
</g>
</svg></body></html>
